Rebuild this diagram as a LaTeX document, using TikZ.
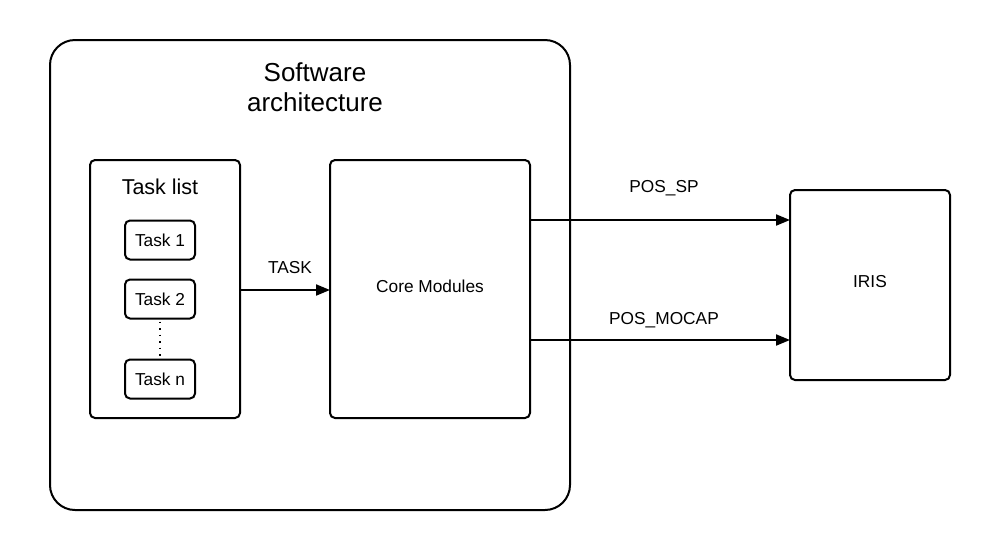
\documentclass[tikz,border=0pt]{standalone}
\usepackage{fontspec}
\setmainfont{Liberation Sans}
\usetikzlibrary{arrows.meta}
\begin{document}
\begin{tikzpicture}[x=1pt,y=-1pt,
  box/.style={draw=black,line width=2pt,rounded corners=5pt,fill=white},
  lbl/.style={font=\fontsize{17.3}{20}\selectfont,inner sep=0pt},
  conn/.style={line width=2pt,-{Triangle[length=14pt,width=11pt]}}]
\useasboundingbox (0,0) rectangle (990,550);
\fill[white] (0,0) rectangle (990,550);
% outer
\draw[line width=2pt,rounded corners=25pt] (50,40) rectangle (570,510);
\node[align=center,font=\fontsize{26}{30}\selectfont,inner sep=0pt] (title) at (315,87) {Software\\architecture};
% task list
\draw[box] (90,160) rectangle (240,418);
\coordinate (tlE) at (240,290);
\node[font=\fontsize{21.5}{24}\selectfont,inner sep=0pt] (tltxt) at (160,187) {Task list};
\node[box,minimum width=70pt,minimum height=39pt,lbl] (t1) at (160,240) {Task 1};
\node[box,minimum width=70pt,minimum height=39pt,lbl] (t2) at (160,299) {Task 2};
\node[box,minimum width=70pt,minimum height=39pt,lbl] (tn) at (160,379) {Task n};
\draw[line width=1.5pt,dash pattern=on 1.5pt off 5pt,dash phase=-2pt] (t2.south) -- (tn.north);
% core
\node[draw=black,line width=2pt,rounded corners=5pt,minimum width=200pt,minimum height=258pt] (core) at (430,289) {};
\node[lbl] (coretxt) at (430,286) {Core Modules};
% iris
\node[draw=black,line width=2pt,rounded corners=5pt,minimum width=160pt,minimum height=190pt] (iris) at (870,285) {};
\node[lbl] (iristxt) at (870,282) {IRIS};
% arrows
\coordinate (cmW) at (330,290);
\draw[conn] (tlE) -- (cmW);
\node[lbl] (task) at (290,268) {TASK};
\coordinate (sp1) at (530,220);
\coordinate (sp2) at (790,220);
\draw[conn] (sp1) -- (sp2);
\node[lbl] (possp) at (664,188) {POS\_SP};
\coordinate (mc1) at (530,340);
\coordinate (mc2) at (790,340);
\draw[conn] (mc1) -- (mc2);
\node[lbl] (posmc) at (664,320) {POS\_MOCAP};
\end{tikzpicture}
\end{document}
